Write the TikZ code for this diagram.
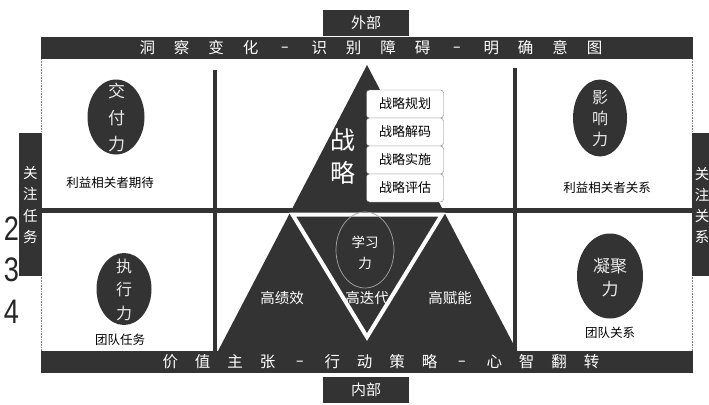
\documentclass[tikz,border=0pt]{standalone}
\usepackage{fontspec}
\setmainfont{Noto Sans CJK SC}
\newfontfamily\numfont{Liberation Sans}
\usetikzlibrary{shapes.geometric}
\definecolor{dk}{HTML}{333333}
\definecolor{lt}{HTML}{E8E8E8}
\newcommand{\gp}{\hspace{19pt}}
\newcommand{\gq}{\hspace{17pt}}
\newcommand{\dsh}{\makebox[15pt]{\scalebox{0.55}[1]{－}}}
\newcommand{\fs}[1]{\fontsize{#1}{#1}\selectfont}
\newcommand{\fss}[2]{\fontsize{#1}{#2}\selectfont}
\begin{document}
\begin{tikzpicture}[x=1pt,y=-1pt,
  barbox/.style={rectangle, fill=dk, draw=none, inner sep=0pt, outer sep=0pt},
  bartext/.style={text=white, font=\fs{15.5}, inner sep=0pt},
  tabtext/.style={text=white, inner sep=0pt, align=center},
  oval/.style={ellipse, fill=dk, draw=none, inner sep=0pt},
  ovaltext/.style={text=lt, align=center, inner sep=0pt},
  caption/.style={text=black, font=\fs{12.5}, inner sep=0pt},
  stratbox/.style={rectangle, rounded corners=3pt, draw=gray, fill=white, minimum width=77pt, minimum height=28pt, font=\fs{13}, inner sep=0pt},
  divider/.style={draw=dk, line width=4pt},
  numtext/.style={font=\numfont\fs{34}, text=black!85, xscale=0.8, inner sep=0pt}]
\useasboundingbox (0,0) rectangle (709,404);
\fill[white] (0,0) rectangle (709,404);

% frame
\coordinate (fl1) at (41,59); \coordinate (fl2) at (41,351);
\coordinate (fr1) at (692,59); \coordinate (fr2) at (692,351);
\draw[gray, densely dotted, line width=0.6pt] (fl1) -- (fl2);
\draw[gray, densely dotted, line width=0.6pt] (fr1) -- (fr2);

% dividers
\coordinate (hl) at (41,210); \coordinate (hr) at (692,210);
\coordinate (v1t) at (215,70); \coordinate (v1b) at (215,351);
\coordinate (v2t) at (515,68); \coordinate (v2b) at (515,351);
\draw[divider, line width=5pt] (hl) -- (hr);
\draw[divider] (v1t) -- (v1b);
\draw[divider] (v2t) -- (v2b);

% big triangle
\coordinate (apex) at (367,65);
\coordinate (bl) at (218,351);
\coordinate (br) at (517,351);
\fill[dk] (bl) -- (apex) -- (br) -- cycle;

% inner inverted triangle
\coordinate (il) at (292.5,214.5);
\coordinate (ir) at (442,214.5);
\coordinate (ib) at (367,337);
\draw[white, line width=4pt] (il) -- (ir) -- (ib) -- cycle;

% learning circle
\node[ellipse, draw=black!35, line width=0.7pt, minimum width=58pt, minimum height=76pt, inner sep=0pt] (learn) at (365,250) {};
\node[text=white, font=\fss{13.5}{21}, align=center, inner sep=0pt] (learntxt) at (365,253) {学习\\力};

% triangle texts
\node[text=white, font=\fss{25}{33}, align=center, inner sep=0pt] (strategy) at (343,157) {战\\略};
\node[text=white, font=\fs{14.5}, inner sep=0pt] (gjx) at (282,298) {高绩效};
\node[text=white, font=\fs{14.5}, inner sep=0pt] (gdd) at (367,298) {高迭代};
\node[text=white, font=\fs{14.5}, inner sep=0pt] (gfn) at (450,298) {高赋能};

% strategy boxes
\node[stratbox] (b1) at (405,104) {战略规划};
\node[stratbox] (b2) at (405,132) {战略解码};
\node[stratbox] (b3) at (405,160) {战略实施};
\node[stratbox] (b4) at (405,188) {战略评估};

% ovals
\node[oval, minimum width=57pt, minimum height=75pt] (jfl) at (116,117) {};
\node[ovaltext, font=\fss{17}{26.5}] (jfltxt) at (116.5,117.5) {交\\付\\力};
\node[oval, minimum width=54pt, minimum height=77pt] (yxl) at (600,118) {};
\node[ovaltext, font=\fss{16}{21}] (yxltxt) at (600,119) {影\\响\\力};
\node[oval, minimum width=55pt, minimum height=72pt] (zxl) at (124,289) {};
\node[ovaltext, font=\fss{16}{23.5}] (zxltxt) at (124,289.5) {执\\行\\力};
\node[oval, minimum width=66pt, minimum height=85pt] (njl) at (610,276) {};
\node[ovaltext, font=\fss{17}{23}] (njltxt) at (610,277.5) {凝聚\\力};

% captions
\node[caption] (c1) at (110,183) {利益相关者期待};
\node[caption] (c2) at (607,188) {利益相关者关系};
\node[caption, font=\fs{12.5}] (c3) at (120,340) {团队任务};
\node[caption, font=\fs{12.5}] (c4) at (610,333) {团队关系};

% bars
\node[barbox, minimum width=652pt, minimum height=22pt] (topbar) at (367,48) {};
\node[bartext] (toptxt) at (371,48) {洞\gp 察\gp 变\gp 化\gp\dsh\gp 识\gp 别\gp 障\gp 碍\gp\dsh\gp 明\gp 确\gp 意\gp 图};
\node[barbox, minimum width=652pt, minimum height=22pt] (botbar) at (367,362) {};
\node[bartext] (bottxt) at (381,362) {价\gq 值\gq 主\gq 张\gq\dsh\gq 行\gq 动\gq 策\gq 略\gq\dsh\gq 心\gq 智\gq 翻\gq 转};

% outer/inner tabs
\node[barbox, minimum width=86pt, minimum height=26pt, text=white, font=\fs{15}] (outtab) at (366,23) {外部};
\node[barbox, minimum width=86pt, minimum height=26pt, text=white, font=\fs{15}] (intab) at (366,390) {内部};

% stray numbers
\node[numtext] (n2) at (11.5,229) {2};
\node[numtext] (n3) at (11.5,270) {3};
\node[numtext] (n4) at (11.5,312) {4};

% side tabs
\node[barbox, minimum width=23pt, minimum height=143pt] (ltab) at (30.5,204.5) {};
\node[tabtext, font=\fss{14.5}{21.5}] (ltabtxt) at (30.5,205) {关\\注\\任\\务};
\node[barbox, minimum width=17pt, minimum height=143pt] (rtab) at (700.5,204.5) {};
\node[tabtext, font=\fss{14.5}{21}] (rtabtxt) at (702,205) {关\\注\\关\\系};
\end{tikzpicture}
\end{document}
